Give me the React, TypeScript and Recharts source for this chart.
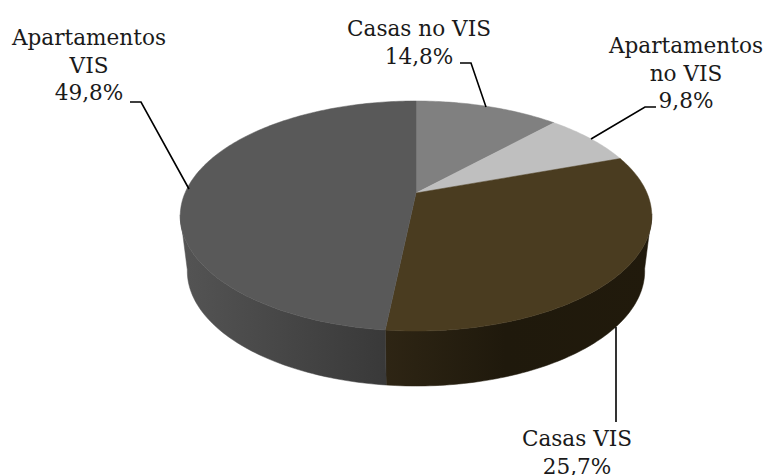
import React from "react";
import { PieChart, Pie } from "recharts";

const names = ["Casas no VIS", "Apartamentos no VIS", "Casas VIS", "Apartamentos VIS"];
// wedge sizes as drawn in the picture (they differ from the printed percentages)
const drawnShares = [12, 7.6, 32.1, 48.3];
const printedShares = ["14,8%", "9,8%", "25,7%", "49,8%"];
const labelLines = [["Casas no VIS"], ["Apartamentos", "no VIS"], ["Casas VIS"], ["Apartamentos", "VIS"]];

const topColors = ["#808080", "#bfbfbf", "#4a3c20", "#595959"];
const wallColors = ["#555555", "#808080", "url(#wallBrown)", "url(#wallGrey)"];

const data = names.map((name, i) => ({ name, value: drawnShares[i], fill: topColors[i], wall: wallColors[i] }));

const CX = 416;
const CY = 193;
const R = 231;
const SQUASH = 0.478;
const PERSPECTIVE = 0.2;
const DEPTH = 55;
const RIM_Y = 213;

// tilted circle: angle on the pie -> point on screen
function project(deg: number, cx: number, cy: number, r: number) {
  const a = (deg * Math.PI) / 180;
  const k = 1 + PERSPECTIVE * Math.sin(a);
  return { x: cx + (r * Math.cos(a)) / k, y: cy - (r * SQUASH * Math.sin(a)) / k };
}

function TiltedSlice(props: any) {
  const { cx, cy, outerRadius, startAngle, endAngle, fill, wall } = props;
  const pts: { x: number; y: number }[] = [];
  const steps = Math.max(2, Math.ceil(Math.abs(endAngle - startAngle)));
  for (let i = 0; i <= steps; i++) {
    pts.push(project(startAngle + ((endAngle - startAngle) * i) / steps, cx, cy, outerRadius));
  }
  const top = `M${cx},${cy}L` + pts.map((p) => `${p.x},${p.y}`).join("L") + "Z";
  const front = pts.filter((p) => p.y >= RIM_Y);
  const lower = front.map((p) => ({ x: cx + (p.x - cx) * 0.97, y: p.y + DEPTH })).reverse();
  const side = front.length > 1 ? "M" + [...front, ...lower].map((p) => `${p.x},${p.y}`).join("L") + "Z" : "";
  return (
    <g>
      {side && <path d={side} fill={wall} stroke={wall} strokeWidth={0.5} />}
      <path d={top} fill={fill} stroke={fill} strokeWidth={0.5} />
    </g>
  );
}

const labelLayout = [
  { x: 419, y: 36, leader: "460,63 471,63 486,107" },
  { x: 686, y: 53, leader: "656,107 645,107 591,139" },
  { x: 577, y: 446, leader: "616,422 616,327" },
  { x: 89, y: 45, leader: "130,102 141,102 189,189" },
];

function renderLabel(props: any) {
  const i = props.index;
  const pos = labelLayout[i];
  const lines = [...labelLines[i], printedShares[i]];
  return (
    <g key={i}>
      <polyline points={pos.leader} fill="none" stroke="#000" strokeWidth={1.6} />
      {lines.map((t, j) => (
        <text key={j} x={pos.x} y={pos.y + j * 27.5} textAnchor="middle" fontFamily="DejaVu Serif" fontSize={21.6} fill="#1a1a1a">
          {t}
        </text>
      ))}
    </g>
  );
}

export default function App() {
  return (
    <div style={{ position: "absolute", left: 0, top: 0, width: 765, height: 475, background: "#fff" }}>
      <PieChart width={765} height={475} margin={{ top: 0, right: 0, bottom: 0, left: 0 }}>
        <defs>
          <linearGradient id="wallGrey" gradientUnits="userSpaceOnUse" x1={181} y1={0} x2={385} y2={0}>
            <stop offset="0%" stopColor="#545454" />
            <stop offset="100%" stopColor="#393939" />
          </linearGradient>
          <linearGradient id="wallBrown" gradientUnits="userSpaceOnUse" x1={385} y1={0} x2={653} y2={0}>
            <stop offset="0%" stopColor="#2e2514" />
            <stop offset="45%" stopColor="#1f190c" />
            <stop offset="100%" stopColor="#211a0c" />
          </linearGradient>
        </defs>
        <Pie
          data={data}
          dataKey="value"
          nameKey="name"
          cx={CX}
          cy={CY}
          outerRadius={R}
          startAngle={90}
          endAngle={-270}
          stroke="none"
          shape={TiltedSlice}
          label={renderLabel}
          labelLine={false}
          isAnimationActive={false}
        />
      </PieChart>
    </div>
  );
}
